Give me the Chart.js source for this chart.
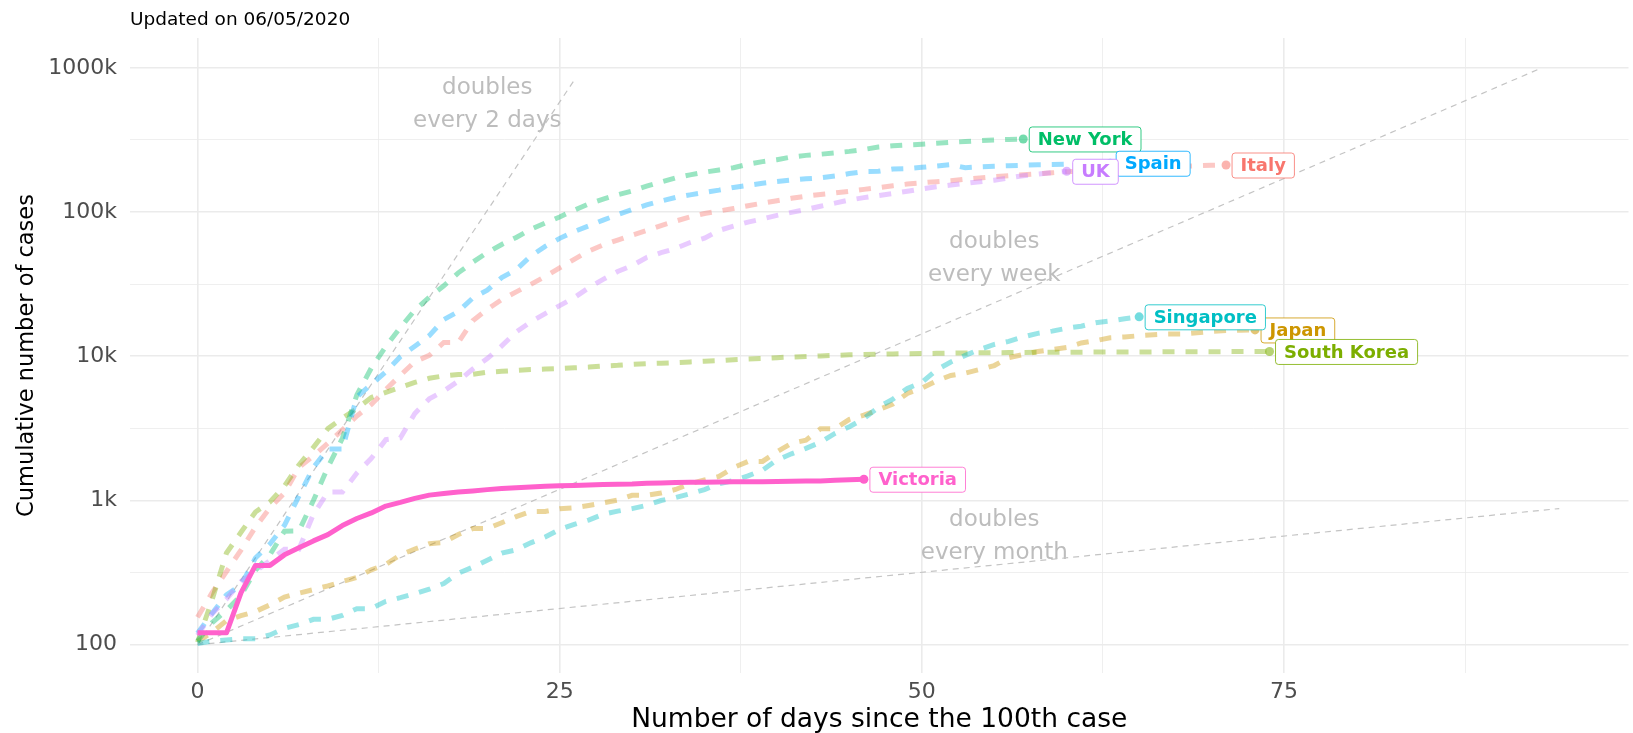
<!DOCTYPE html>
<html>
<head>
<meta charset="utf-8">
<title>Cumulative number of cases</title>
<script src="https://cdn.jsdelivr.net/npm/chart.js@4.4.1/dist/chart.umd.min.js"></script>
<style>
    html, body {
        margin: 0;
        padding: 0;
        background: #ffffff;
    }
    #chartBox {
        width: 1633px;
        height: 733px;
    }
</style>
</head>
<body>
<div id="chartBox">
    <canvas id="casesChart" width="1633" height="733"></canvas>
</div>
<script>

// day index = number of days since the 100th case
const countries = ["Italy", "Japan", "South Korea", "New York", "Singapore", "Spain", "UK", "Victoria"];

const countryColours = ["#F8766D", "#CD9600", "#7CAE00", "#00BE67", "#00BFC4", "#00A9FF", "#C77CFF", "#FF61CC"];

const italyCases = [
    155, 229, 322, 453, 655, 888, 1128, 1694, 2036, 2502, 3089, 3858, 4636, 5883, 7375, 9172,
    10149, 12462, 12462, 17660, 21157, 24747, 27980, 31506, 35713, 41035, 47021, 53578, 59138,
    63927, 69176, 74386, 80589, 86498, 92472, 97689, 101739, 105792, 110574, 115242, 119827,
    124632, 128948, 132547, 135586, 139422, 143626, 147577, 152271, 156363, 159516, 162488,
    165155, 168941, 172434, 175925, 178972, 181228, 183957, 187327, 189973, 192994, 195351,
    197675, 199414, 201505, 203591, 205463, 207428, 209328, 210717, 211938
];

const japanCases = [
    105, 122, 147, 159, 170, 189, 214, 228, 241, 256, 274, 293, 331, 360, 420, 461, 502, 511,
    581, 639, 639, 701, 773, 839, 839, 878, 889, 924, 963, 1007, 1086, 1086, 1128, 1193, 1307,
    1387, 1468, 1693, 1866, 1866, 2178, 2495, 2617, 3139, 3139, 3654, 3906, 4257, 4667, 5530,
    6005, 6748, 7370, 7645, 8100, 8626, 9787, 10296, 10797, 11135, 11512, 12368, 12829, 13441,
    13614, 13895, 14088, 14281, 14305, 14571, 14877, 15078, 15150, 15230
];

const southKoreaCases = [
    104, 204, 433, 602, 833, 977, 1261, 1766, 2337, 3150, 3736, 4335, 5186, 5621, 6088, 6593,
    7041, 7314, 7478, 7513, 7755, 7869, 7979, 8086, 8162, 8236, 8320, 8413, 8565, 8652, 8799,
    8897, 8961, 9037, 9137, 9241, 9332, 9478, 9583, 9661, 9786, 9887, 9976, 10062, 10156,
    10237, 10284, 10331, 10384, 10423, 10450, 10480, 10512, 10537, 10564, 10591, 10613, 10635,
    10653, 10661, 10674, 10683, 10694, 10702, 10708, 10718, 10728, 10738, 10752, 10761, 10765,
    10774, 10780, 10793, 10801
];

const newYorkCases = [
    106, 142, 173, 220, 328, 421, 613, 615, 1000, 1700, 2700, 5400, 8300, 11700, 15800, 20900,
    25700, 30800, 37900, 44900, 52400, 59600, 66700, 75800, 83900, 92500, 103000, 113800,
    122900, 131800, 139900, 151100, 161500, 172400, 181100, 189000, 195700, 203000, 214500,
    223700, 230600, 241000, 247200, 251700, 257200, 263500, 271600, 282100, 288000, 292000,
    295100, 299700, 304400, 308300, 313000, 316400, 319000, 321200
];

const singaporeCases = [
    102, 106, 108, 110, 110, 117, 130, 138, 150, 150, 160, 178, 178, 200, 212, 226, 243, 266,
    313, 345, 385, 432, 455, 509, 558, 631, 683, 732, 802, 844, 879, 926, 1000, 1049, 1114,
    1189, 1309, 1375, 1481, 1623, 1910, 2108, 2299, 2532, 2918, 3252, 3699, 4427, 5050, 5992,
    6588, 8014, 9125, 10141, 11178, 12075, 12693, 13624, 14423, 14951, 15641, 16169, 17101,
    17548, 18205, 18778
];

const spainCases = [
    120, 165, 222, 259, 400, 500, 673, 1073, 1695, 2277, 2277, 5232, 6391, 7798, 9942, 11748,
    13910, 17963, 20410, 25374, 28768, 35136, 39885, 49515, 57786, 65719, 73235, 80110, 87956,
    95923, 104118, 112065, 119199, 126168, 131646, 136675, 141942, 148220, 153222, 158273,
    163027, 166831, 170099, 172541, 177644, 184948, 190839, 191726, 198674, 200210, 204178,
    208389, 213024, 202990, 205905, 207634, 209465, 210773, 212917, 213435, 215216, 216582,
    217466, 218011
];

const ukCases = [
    116, 164, 207, 274, 322, 384, 459, 459, 802, 1144, 1145, 1551, 1960, 2642, 2716, 4014,
    5067, 5745, 6726, 8164, 9640, 11812, 14745, 17312, 19780, 22453, 25481, 29865, 34173,
    38689, 42477, 48436, 52279, 55949, 61474, 65872, 74605, 79874, 85206, 89570, 94845, 99483,
    104145, 109769, 115314, 121172, 125856, 130172, 134638, 139246, 144640, 149569, 154037,
    158348, 162350, 166441, 172481, 178685, 183500, 187842, 191832
];

const victoriaCases = [
    121, 121, 121, 229, 355, 355, 420, 470, 525, 580, 670, 750, 820, 915, 970, 1035, 1090,
    1120, 1145, 1165, 1190, 1210, 1228, 1240, 1255, 1265, 1270, 1280, 1290, 1295, 1300, 1315,
    1325, 1335, 1337, 1340, 1345, 1348, 1350, 1352, 1355, 1360, 1365, 1368, 1380, 1395, 1405
];

const countryCases = [italyCases, japanCases, southKoreaCases, newYorkCases, singaporeCases, spainCases, ukCases, victoriaCases];

const guideDays = [[0, 26], [0, 92.8], [0, 94]];
const guideCases = [[100, 820000], [100, 1000000], [100, 880]];

const guideLabelLines = [["doubles", "every 2 days"], ["doubles", "every week"], ["doubles", "every month"]];
const guideLabelDays = [20, 55, 55];
const guideLabelCases = [560000, 48000, 570];

const xTicks = [0, 12.5, 25, 37.5, 50, 62.5, 75, 87.5];
const yTicks = [100, 316.2, 1000, 3162, 10000, 31623, 100000, 316228, 1000000];
const yTickLabels = { 100: "100", 1000: "1k", 10000: "10k", 100000: "100k", 1000000: "1000k" };

const FONT = "'DejaVu Sans', sans-serif";


function withAlpha(hex, alpha) {

    const r = parseInt(hex.slice(1, 3), 16);
    const g = parseInt(hex.slice(3, 5), 16);
    const b = parseInt(hex.slice(5, 7), 16);

    return "rgba(" + r + "," + g + "," + b + "," + alpha + ")";

}

function buildDatasets() {

    let datasets = [];

    countries.forEach((name, i) => {

        const cases = countryCases[i];
        const last = cases.length - 1;
        const solid = name === "Victoria";

        datasets.push({
            label: name,
            data: cases.map((value, day) => ({ x: day, y: value })),
            borderColor: solid ? countryColours[i] : withAlpha(countryColours[i], 0.4),
            borderWidth: 5,
            borderDash: solid ? [] : [12, 11],
            borderCapStyle: "butt",
            borderJoinStyle: solid ? "round" : "miter",
            pointRadius: ctx => (ctx.dataIndex === last ? 4.5 : 0),
            pointBackgroundColor: solid ? countryColours[i] : withAlpha(countryColours[i], 0.55),
            pointBorderWidth: 0,
            fill: false,
            order: 10 - i
        });

    });

    guideDays.forEach((days, i) => {

        datasets.push({
            label: guideLabelLines[i].join(" "),
            data: days.map((day, k) => ({ x: day, y: guideCases[i][k] })),
            borderColor: "#c4c4c4",
            borderWidth: 1.2,
            borderDash: [6, 5],
            pointRadius: 0,
            fill: false,
            order: 30
        });

    });

    return datasets;

}

const guideText = {

    id: "guideText",

    beforeDatasetsDraw(chart) {

        const ctx = chart.ctx;

        ctx.save();
        ctx.font = "23px " + FONT;
        ctx.fillStyle = "#bdbdbd";
        ctx.textAlign = "center";
        ctx.textBaseline = "middle";

        guideLabelLines.forEach((lines, i) => {

            const px = chart.scales.x.getPixelForValue(guideLabelDays[i]);
            const py = chart.scales.y.getPixelForValue(guideLabelCases[i]);

            ctx.fillText(lines[0], px, py - 16);
            ctx.fillText(lines[1], px, py + 17);

        });

        ctx.restore();

    }

};

const endLabels = {

    id: "endLabels",

    afterDatasetsDraw(chart) {

        const ctx = chart.ctx;

        ctx.save();
        ctx.font = "bold 18px " + FONT;
        ctx.textBaseline = "middle";
        ctx.textAlign = "left";

        countries.forEach((name, i) => {

            const cases = countryCases[i];
            const last = cases.length - 1;

            const px = chart.scales.x.getPixelForValue(last);
            const py = chart.scales.y.getPixelForValue(cases[last]);

            const boxWidth = ctx.measureText(name).width + 17;
            const boxHeight = 25;
            const left = px + 6;
            const top = py - boxHeight / 2 + 0.5;

            ctx.beginPath();
            ctx.roundRect(left, top, boxWidth, boxHeight, 3);
            ctx.fillStyle = "#ffffff";
            ctx.fill();
            ctx.lineWidth = 1;
            ctx.strokeStyle = withAlpha(countryColours[i], 0.8);
            ctx.stroke();

            ctx.fillStyle = countryColours[i];
            ctx.fillText(name, left + 8.5, top + boxHeight / 2 + 1);

        });

        ctx.restore();

    }

};

function createCasesChart() {

    const chartCanvas =
        document.getElementById("casesChart");

    Chart.defaults.font.family = FONT;

    new Chart(chartCanvas, {

        type: "line",

        data: {
            datasets: buildDatasets()
        },

        options: {

            responsive: false,
            animation: false,
            devicePixelRatio: 1,

            layout: {
                padding: 0
            },

            plugins: {

                legend: {
                    display: false
                },

                tooltip: {
                    enabled: false
                },

                title: {
                    display: true,
                    text: "Updated on 06/05/2020",
                    align: "start",
                    fullSize: false,
                    color: "#000000",
                    font: {
                        family: FONT,
                        size: 18.5,
                        weight: "normal",
                        lineHeight: 1.2
                    },
                    padding: {
                        top: 8.6,
                        bottom: 7.2
                    }
                }

            },

            scales: {

                x: {
                    type: "linear",
                    min: -4.66,
                    max: 98.78,
                    bounds: "data",
                    afterBuildTicks: scale => {
                        scale.ticks = xTicks.map(v => ({ value: v }));
                    },
                    afterFit: scale => {
                        scale.height = 60;
                    },
                    grid: {
                        drawTicks: false,
                        color: "#ebebeb",
                        lineWidth: ctx => (ctx.tick && ctx.tick.value % 25 === 0 ? 1.6 : 0.8)
                    },
                    border: {
                        display: false
                    },
                    ticks: {
                        padding: 6,
                        maxRotation: 0,
                        autoSkip: false,
                        color: "#4d4d4d",
                        font: {
                            size: 22
                        },
                        callback: value => (value % 25 === 0 ? String(value) : "")
                    },
                    title: {
                        display: true,
                        text: "Number of days since the 100th case",
                        color: "#000000",
                        font: {
                            size: 26.5,
                            lineHeight: 1.0
                        },
                        padding: {
                            top: 0,
                            bottom: 0
                        }
                    }
                },

                y: {
                    type: "logarithmic",
                    min: 63.7,
                    max: 1610000,
                    bounds: "data",
                    afterBuildTicks: scale => {
                        scale.ticks = yTicks.map(v => ({ value: v }));
                    },
                    afterFit: scale => {
                        scale.width = 130;
                    },
                    grid: {
                        drawTicks: false,
                        color: "#ebebeb",
                        lineWidth: ctx => (ctx.tick && yTickLabels[ctx.tick.value] ? 1.6 : 0.8)
                    },
                    border: {
                        display: false
                    },
                    ticks: {
                        padding: 13,
                        autoSkip: false,
                        color: "#4d4d4d",
                        font: {
                            size: 22
                        },
                        callback: value => yTickLabels[value] || ""
                    },
                    title: {
                        display: true,
                        text: "Cumulative number of cases",
                        color: "#000000",
                        font: {
                            size: 22.5,
                            lineHeight: 1.2
                        },
                        padding: {
                            top: 13.5,
                            bottom: 0
                        }
                    }
                }

            }

        },

        plugins: [guideText, endLabels]

    });

}

window.onload = function() {

    createCasesChart();

}

</script>
</body>
</html>
